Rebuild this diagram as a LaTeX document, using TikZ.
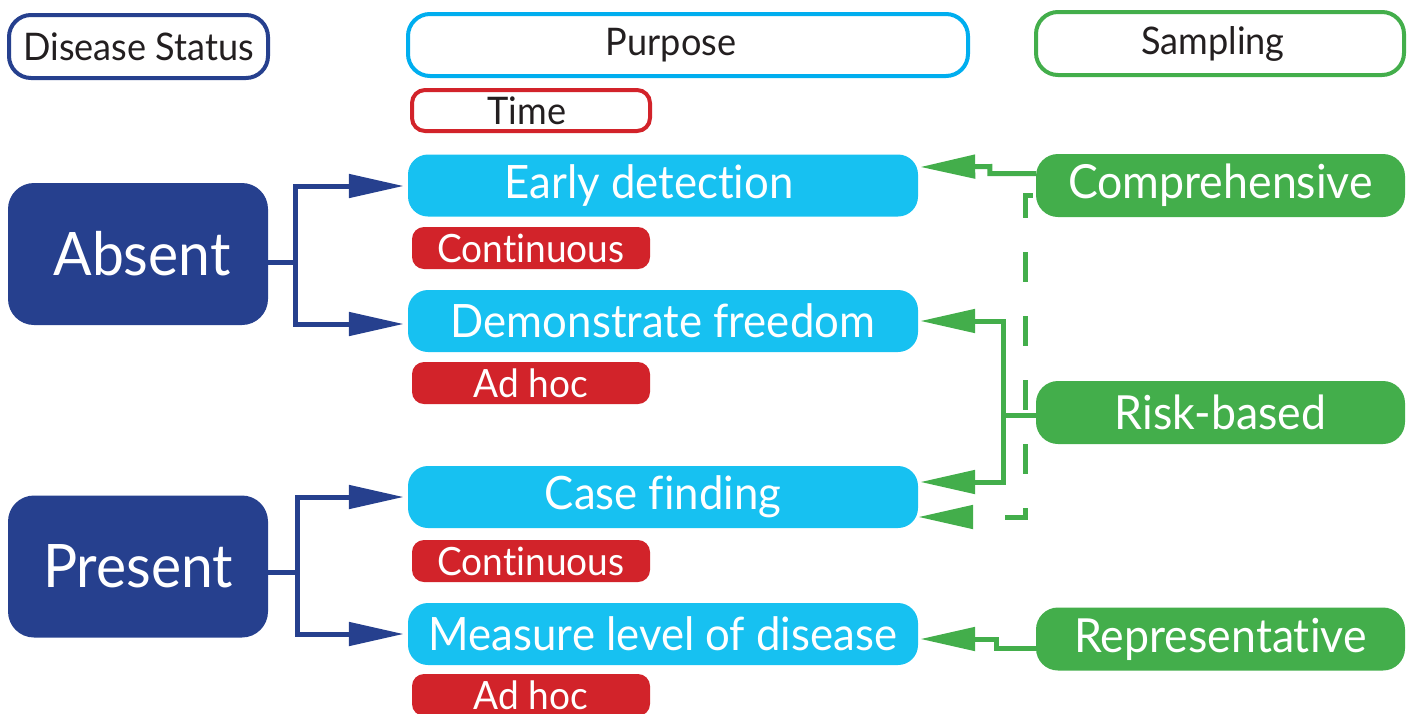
\documentclass[tikz,border=0pt]{standalone}
\usepackage{fontspec}
\setmainfont{Lato}[FakeStretch=0.95,Ligatures=NoCommon]
\usetikzlibrary{arrows.meta}
\definecolor{navy}{HTML}{26408E}
\definecolor{cyanfill}{HTML}{17C1F1}
\definecolor{cyanline}{HTML}{00AEEF}
\definecolor{redc}{HTML}{D2232A}
\definecolor{greenc}{HTML}{43AE4B}
\definecolor{ink}{HTML}{231F20}
\begin{document}
\begin{tikzpicture}[x=1pt,y=-1pt,
  hdr/.style={draw,line width=4pt,fill=white,text=ink,inner sep=0pt,rounded corners=22pt,
    font=\fontsize{38}{42}\selectfont},
  status/.style={fill=navy,text=white,inner sep=0pt,rounded corners=26pt,
    minimum width=260pt,minimum height=142pt,font=\fontsize{60}{64}\selectfont},
  purp/.style={fill=cyanfill,text=white,inner sep=0pt,rounded corners=20pt,
    minimum width=510pt,minimum height=62pt,font=\fontsize{46}{50}\selectfont},
  timebox/.style={fill=redc,text=white,inner sep=0pt,rounded corners=12pt,
    minimum width=238pt,minimum height=42pt,font=\fontsize{39}{42}\selectfont},
  samp/.style={fill=greenc,text=white,inner sep=0pt,rounded corners=22pt,
    minimum width=369pt,minimum height=63pt,font=\fontsize{47}{50}\selectfont},
  tipc/.style={-{Triangle[length=55pt,width=23pt]}},
  nline/.style={draw=navy,line width=5pt,tipc,shorten >=4pt},
  gline/.style={draw=greenc,line width=5pt,tipc,shorten >=2pt},
]
\useasboundingbox (0,0) rectangle (1411,713);
\clip (0,0) rectangle (1411,713);

% headers
\node[hdr,draw=navy,minimum width=259pt,minimum height=63pt] (hds) at (138.5,46.5) {Disease Status};
\node[hdr,draw=cyanline,minimum width=560pt,minimum height=62pt] (hpu) at (688,45) {Purpose\hspace*{34pt}};
\node[hdr,draw=greenc,minimum width=368pt,minimum height=63pt] (hsa) at (1220,43.5) {Sampling\hspace*{14pt}};
\node[hdr,draw=redc,rounded corners=13pt,minimum width=238pt,minimum height=41pt] (hti) at (531,110.5) {Time\hspace*{8pt}};

% disease status
\node[status] (absent) at (138,254) {\hspace*{8pt}Absent};
\node[status] (present) at (138,566.5) {Present};

% purpose
\node[purp] (early) at (663,185.5) {Early detection\hspace*{28pt}};
\node[purp] (demo) at (663,321) {Demonstrate freedom};
\node[purp] (case) at (663,497) {Case finding};
\node[purp] (meas) at (663,634) {Measure level of disease};

% time
\node[timebox] (t1) at (531,248) {Continuous};
\node[timebox] (t2) at (531,383) {Ad hoc};
\node[timebox] (t3) at (531,561) {Continuous};
\node[timebox] (t4) at (531,695) {Ad hoc};

% sampling
\node[samp] (comp) at (1220.5,185.5) {Comprehensive};
\node[samp] (risk) at (1220.5,412.5) {Risk-based};
\node[samp] (rep) at (1220.5,639) {Representative};

% navy connectors
\draw[nline] ([yshift=-8pt]absent.east) -- ++(27,0) |- ([yshift=-0.5pt]early.west);
\draw[nline] ([yshift=-8pt]absent.east) -- ++(27,0) |- ([yshift=-3pt]demo.west);
\draw[nline] ([yshift=-5.5pt]present.east) -- ++(29,0) |- (case.west);
\draw[nline] ([yshift=-5.5pt]present.east) -- ++(29,0) |- (meas.west);

% green connectors
\draw[gline] ([yshift=12pt]comp.west) -- ++(-46,0) -- ++(0,-7) -- ([yshift=18.5pt]early.east);
\draw[gline,dash pattern=on 30pt off 34pt,dash phase=-3pt,shorten >=0pt]
  ([yshift=-9.5pt]comp.west) -- ++(-10,0) |- ([yshift=-20pt]case.east);
\draw[gline] ([yshift=-2.5pt]risk.west) -- ++(-32,0) |- (demo.east);
\draw[gline] ([yshift=-2.5pt]risk.west) -- ++(-32,0) |- ([yshift=15pt]case.east);
\draw[gline] ([yshift=-9pt]rep.west) -- ++(-39,0) -- ++(0,-9) -- ([yshift=-5pt]meas.east);
\end{tikzpicture}
\end{document}
